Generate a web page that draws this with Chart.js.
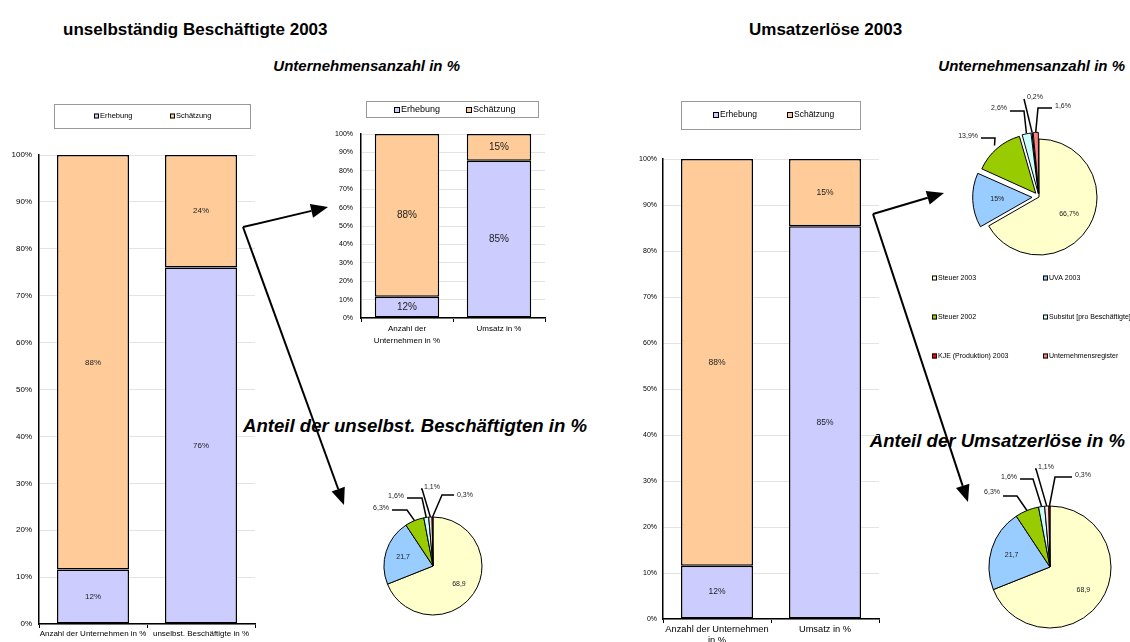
<!DOCTYPE html>
<html>
<head>
<meta charset="utf-8">
<script src="https://cdn.jsdelivr.net/npm/chart.js@4.4.0/dist/chart.umd.min.js"></script>
<style>
  body { margin: 0; width: 1130px; height: 642px; overflow: hidden; background: #fff; position: relative; font-family: "Liberation Sans", Arial, sans-serif; }
  canvas { position: absolute; }
  .t { position: absolute; white-space: nowrap; color: #000; line-height: 1; transform: translateY(-50%); }
  .h { font-weight: bold; font-size: 17px; }
  .s { font-weight: bold; font-style: italic; font-size: 15px; }
  .a { font-weight: bold; font-style: italic; font-size: 18.6px; }
  svg { position: absolute; left: 0; top: 0; }
</style>
</head>
<body>
<div class="t h" style="left:63px;top:29px">unselbständig Beschäftigte 2003</div>
<div class="t h" style="left:749px;top:29px">Umsatzerlöse 2003</div>
<div class="t s" style="right:670px;top:65px">Unternehmensanzahl in %</div>
<div class="t s" style="right:5px;top:65px">Unternehmensanzahl in %</div>
<div class="t a" style="left:243px;top:426px">Anteil der unselbst. Beschäftigten in %</div>
<div class="t a" style="right:5px;top:441px">Anteil der Umsatzerlöse in %</div>

<canvas id="barL" width="265" height="642" style="left:0;top:0"></canvas>
<canvas id="barS" width="235" height="255" style="left:320px;top:95px"></canvas>
<canvas id="barR" width="265" height="552" style="left:624px;top:90px"></canvas>
<canvas id="pieTR" width="220" height="290" style="left:910px;top:80px"></canvas>
<canvas id="pieBM" width="180" height="172" style="left:343px;top:470px"></canvas>
<canvas id="pieBR" width="170" height="187" style="left:960px;top:455px"></canvas>
<svg id="arrows" width="1130" height="642"></svg>

<script>
const FONT = '"Liberation Sans", Arial, sans-serif';

// bar charts
const series = ["Erhebung", "Schätzung"];
const catsBesch = ["Anzahl der Unternehmen in %", "unselbst. Beschäftigte in %"];
const erhebungBesch = [11.6, 76];
const schaetzungBesch = [88.4, 24];
const catsUntUms = [["Anzahl der", "Unternehmen in %"], "Umsatz in %"];
const erhebungUntUms = [11.6, 85.4];
const schaetzungUntUms = [88.4, 14.6];
const catsUms = [["Anzahl der Unternehmen", "in %"], "Umsatz in %"];
const erhebungUms = [11.6, 85.4];
const schaetzungUms = [88.4, 14.6];

// pie charts
const quellen = ["Steuer 2003", "UVA 2003", "Steuer 2002", "Subsitut [pro Beschäftigte]", "KJE (Produktion) 2003", "Unternehmensregister"];
const anteilUnternehmen = [66.7, 15, 13.9, 2.6, 0.2, 1.6];
const anteilBesch = [68.9, 21.7, 6.3, 1.6, 1.1, 0.3];
const anteilUmsatz = [68.9, 21.7, 6.3, 1.6, 1.1, 0.3];

const pieColors = ['#FFFFCC', '#99CCFF', '#99CC00', '#CCFFFF', '#FF0000', '#FF8080'];
const pieColors2 = ['#FFFFCC', '#99CCFF', '#99CC00', '#CCFFFF', '#FFE0E0', '#FF0000'];

// legend drawn as a framed box like the excel one
const boxLegend = {
  id: 'boxLegend',
  afterDraw(chart, args, o) {
    const ctx = chart.ctx;
    const pie = chart.config.type === 'pie';
    const names = pie ? chart.data.labels : chart.data.datasets.map(d => d.label);
    const cols = pie ? chart.data.datasets[0].backgroundColor : chart.data.datasets.map(d => d.backgroundColor);
    ctx.save();
    if (o.box) {
      ctx.strokeStyle = '#999'; ctx.lineWidth = 1;
      ctx.strokeRect(o.box[0] + 0.5, o.box[1] + 0.5, o.box[2], o.box[3]);
    }
    ctx.font = o.size + 'px ' + FONT;
    ctx.textBaseline = 'middle';
    ctx.textAlign = 'left';
    o.items.forEach((p, i) => {
      const s = o.sq;
      ctx.fillStyle = cols[i];
      ctx.fillRect(p[0], p[1] - s / 2, s, s);
      ctx.strokeStyle = '#000'; ctx.lineWidth = 1;
      ctx.strokeRect(p[0] + 0.5, p[1] - s / 2 + 0.5, s - 1, s - 1);
      ctx.fillStyle = '#000';
      ctx.fillText(names[i], p[0] + s + 1, p[1]);
    });
    ctx.restore();
  }
};

const barLabels = {
  id: 'barLabels',
  afterDatasetsDraw(chart, args, o) {
    const ctx = chart.ctx;
    ctx.save();
    ctx.font = o.size + 'px ' + FONT;
    ctx.fillStyle = '#222';
    ctx.textAlign = 'center';
    ctx.textBaseline = 'middle';
    chart.data.datasets.forEach((ds, di) => {
      chart.getDatasetMeta(di).data.forEach((bar, i) => {
        ctx.fillText(Math.round(ds.data[i]) + '%', bar.x, (bar.y + bar.base) / 2);
      });
    });
    ctx.restore();
  }
};

const pieLabels = {
  id: 'pieLabels',
  afterDatasetsDraw(chart, args, o) {
    const ctx = chart.ctx;
    const vals = chart.data.datasets[0].data;
    ctx.save();
    ctx.font = o.size + 'px ' + FONT;
    ctx.fillStyle = '#222';
    ctx.strokeStyle = '#000';
    ctx.lineWidth = 1.5;
    chart.getDatasetMeta(0).data.forEach((arc, i) => {
      const mid = (arc.startAngle + arc.endAngle) / 2;
      const off = (arc.options.offset || 0) / 4;
      const cx = arc.x + Math.cos(mid) * off, cy = arc.y + Math.sin(mid) * off;
      const txt = String(vals[i]).replace('.', ',');
      const p = o.out[i];
      if (!p) {
        const r = arc.outerRadius * o.ins;
        ctx.textAlign = 'center'; ctx.textBaseline = 'middle';
        ctx.fillText(txt + o.suffix, cx + Math.cos(mid) * r, cy + Math.sin(mid) * r);
        return;
      }
      const px = cx + Math.cos(mid) * (arc.outerRadius + off), py = cy + Math.sin(mid) * (arc.outerRadius + off);
      const ex = arc.x + p.ex, ey = arc.y + p.ey;
      const tx = arc.x + p.x, ty = arc.y + p.y;
      const edge = p.a === 'right' ? tx + 3 : tx - 3;
      ctx.beginPath();
      ctx.moveTo(px, py);
      ctx.lineTo(ex, ey);
      ctx.lineTo(edge, ey);
      ctx.stroke();
      ctx.textAlign = p.a; ctx.textBaseline = 'middle';
      ctx.fillText(txt + '%', tx, ty);
    });
    ctx.restore();
  }
};

function stackedBar(id, cats, lo, hi, o) {
  return new Chart(document.getElementById(id), {
    type: 'bar',
    data: {
      labels: cats,
      datasets: [
        { label: series[0], data: lo, backgroundColor: '#CCCCFF', borderColor: '#000', borderWidth: 1.5, borderSkipped: false, barPercentage: o.bar, categoryPercentage: 1 },
        { label: series[1], data: hi, backgroundColor: '#FFCC99', borderColor: '#000', borderWidth: 1.5, borderSkipped: false, barPercentage: o.bar, categoryPercentage: 1 }
      ]
    },
    options: {
      responsive: false,
      animation: false,
      layout: { padding: { top: o.top, right: 10, left: 0, bottom: 0 } },
      scales: {
        x: {
          stacked: true,
          afterFit: s => { s.height = o.xh; },
          grid: { display: true, drawOnChartArea: false, offset: true, tickLength: 4, color: '#000' },
          border: { color: '#000', width: 1.5 },
          ticks: { color: '#000', padding: 1, maxRotation: 0, autoSkip: false, font: { size: o.xf, family: FONT, lineHeight: o.xlh } }
        },
        y: {
          stacked: true, min: 0, max: 100,
          afterFit: s => { s.width = o.yw; },
          grid: { color: '#e3e3e3', drawTicks: false },
          border: { color: '#000', width: 1.5 },
          ticks: { stepSize: 10, padding: o.yp, color: '#000', font: { size: o.yf, family: FONT }, callback: v => v + '%' }
        }
      },
      plugins: {
        legend: { display: false },
        tooltip: { enabled: false },
        barLabels: { size: o.lf },
        boxLegend: o.legend
      }
    },
    plugins: [boxLegend, barLabels]
  });
}

stackedBar('barL', catsBesch, erhebungBesch, schaetzungBesch, {
  top: 155, xh: 18, yw: 39, bar: 0.667, xf: 8, xlh: 1.2, yf: 8, yp: 7, lf: 8,
  legend: { box: [54, 104, 196, 24], items: [[94, 116], [170, 116]], size: 7.5, sq: 5 }
});
stackedBar('barS', catsUntUms, erhebungUntUms, schaetzungUntUms, {
  top: 39, xh: 32, yw: 41, bar: 0.7, xf: 8, xlh: 1.45, yf: 7, yp: 8, lf: 10,
  legend: { box: [46, 6, 172, 16], items: [[74, 15], [146, 15]], size: 9, sq: 6 }
});
stackedBar('barR', catsUms, erhebungUms, schaetzungUms, {
  top: 69, xh: 23, yw: 39, bar: 0.667, xf: 9.3, xlh: 1.2, yf: 7, yp: 6, lf: 8.5,
  legend: { box: [57, 11, 179, 28], items: [[89, 25], [163, 25]], size: 8.5, sq: 6 }
});

function pie(id, values, colors, o) {
  return new Chart(document.getElementById(id), {
    type: 'pie',
    data: {
      labels: quellen,
      datasets: [{ data: values, backgroundColor: colors, borderColor: '#000', borderWidth: 1, offset: o.offset, radius: o.r, clip: false }]
    },
    options: {
      responsive: false,
      animation: false,
      layout: { padding: o.pad },
      plugins: {
        legend: { display: false },
        tooltip: { enabled: false },
        pieLabels: { size: 7, ins: o.ins, suffix: o.suffix, out: o.out },
        boxLegend: o.legend || false
      }
    },
    plugins: [pieLabels, boxLegend]
  });
}

pie('pieTR', anteilUnternehmen, pieColors, {
  r: 58, offset: [0, 28, 20, 14, 14, 14], ins: 0.6, suffix: '%',
  pad: { left: 48, right: 10, top: 10, bottom: 66 },
  out: [null, null,
    { x: -61, y: -61, a: 'right', ex: -44, ey: -59 },
    { x: -32, y: -89, a: 'right', ex: -15, ey: -86 },
    { x: -12, y: -100, a: 'left', ex: -15, ey: -98 },
    { x: 16, y: -91, a: 'left', ex: -1, ey: -89 }],
  legend: { box: null, items: [[22, 198], [133, 198], [22, 237], [133, 237], [22, 276], [133, 276]], size: 7, sq: 5 }
});
pie('pieBM', anteilBesch, pieColors2, {
  r: 49, offset: 0, ins: 0.64, suffix: '',
  pad: { left: 20, right: 20, top: 40, bottom: 20 },
  out: [null, null,
    { x: -44, y: -58, a: 'right', ex: -26, ey: -56 },
    { x: -29, y: -70, a: 'right', ex: -11, ey: -68 },
    { x: -9, y: -79, a: 'left', ex: -11, ey: -77 },
    { x: 24, y: -71, a: 'left', ex: 9, ey: -71 }]
});
pie('pieBR', anteilUmsatz, pieColors2, {
  r: 61, offset: 0, ins: 0.66, suffix: '',
  pad: { left: 20, right: 10, top: 45, bottom: 8 },
  out: [null, null,
    { x: -50, y: -75, a: 'right', ex: -33, ey: -71 },
    { x: -33, y: -90, a: 'right', ex: -17, ey: -88 },
    { x: -12, y: -100, a: 'left', ex: -14, ey: -98 },
    { x: 25, y: -92, a: 'left', ex: 5, ey: -90 }]
});

// connector arrows
const svg = document.getElementById('arrows');
function arrow(x1, y1, x2, y2) {
  const a = Math.atan2(y2 - y1, x2 - x1), L = 17, W = 7;
  const bx = x2 - L * Math.cos(a), by = y2 - L * Math.sin(a);
  const ns = 'http://www.w3.org/2000/svg';
  const ln = document.createElementNS(ns, 'line');
  ln.setAttribute('x1', x1); ln.setAttribute('y1', y1);
  ln.setAttribute('x2', bx); ln.setAttribute('y2', by);
  ln.setAttribute('stroke', '#000'); ln.setAttribute('stroke-width', 2);
  svg.appendChild(ln);
  const pg = document.createElementNS(ns, 'polygon');
  pg.setAttribute('points', [x2, y2, bx + W * Math.sin(a), by - W * Math.cos(a), bx - W * Math.sin(a), by + W * Math.cos(a)].join(' '));
  pg.setAttribute('fill', '#000');
  svg.appendChild(pg);
}
arrow(243, 227, 328, 207);
arrow(243, 227, 344, 505);
arrow(873, 214, 944, 193);
arrow(873, 214, 968, 502);
</script>
</body>
</html>
